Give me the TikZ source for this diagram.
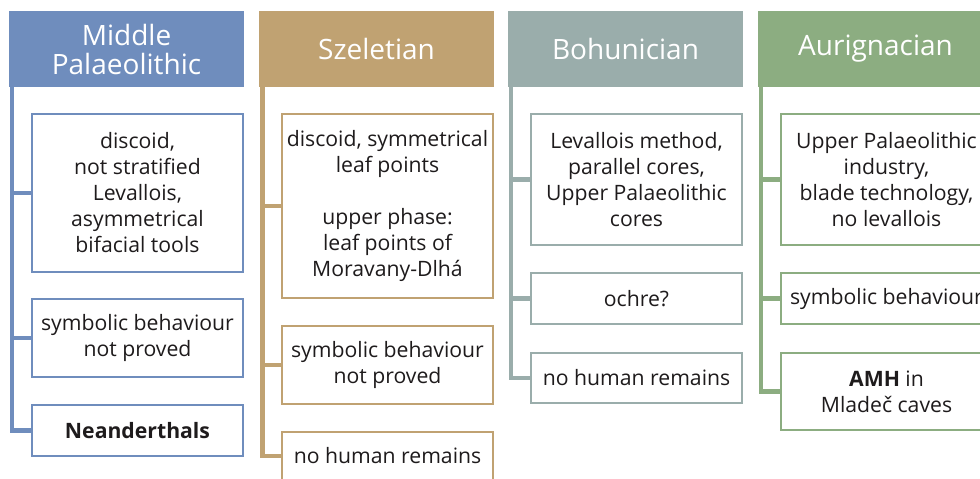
\documentclass[tikz,border=0pt]{standalone}
\usepackage{fontspec}
\setmainfont{Open Sans}
\definecolor{cblue}{HTML}{6F8DBD}
\definecolor{ctan}{HTML}{C0A272}
\definecolor{cgray}{HTML}{9AADAB}
\definecolor{cgreen}{HTML}{8CAD81}
\definecolor{txt}{HTML}{1E1B1C}
\tikzset{
  hdr/.style={fill=#1, minimum width=235pt, minimum height=76pt, inner sep=0pt,
    text=white, align=center, font=\fontsize{28}{29}\selectfont},
  itm/.style={draw=#1, line width=1.6pt, fill=white, minimum width=211pt, inner sep=0pt,
    align=center, text=txt, font=\fontsize{21.2}{26}\selectfont},
  trunk/.style={draw=#1, line width=4.6pt},
}
\begin{document}
\begin{tikzpicture}[x=1pt,y=-1pt]
\useasboundingbox (0,0) rectangle (980,479);
\clip (0,0) rectangle (980,479);
\fill[white] (0,0) rectangle (980,479);
% headers
\node[hdr=cblue]  (h1) at (126.5,49) {Middle\\Palaeolithic};
\node[hdr=ctan]   (h2) at (376.5,49) {Szeletian};
\node[hdr=cgray]  (h3) at (625.5,49) {Bohunician};
\node[hdr=cgreen] (h4) at (875.5,49) {Aurignacian};
% trunk tops
\coordinate (t1) at (12,86);
\coordinate (t2) at (262.5,86);
\coordinate (t3) at (511,86);
\coordinate (t4) at (761,86);
% column 1
\node[itm=cblue, minimum height=158pt] (a1) at (137.5,193) {discoid,\\not stratified\\Levallois,\\asymmetrical\\bifacial tools};
\node[itm=cblue, minimum height=78pt] (a2) at (137.5,338) {symbolic behaviour\\not proved};
\node[itm=cblue, minimum height=51pt] (a3) at (137.5,430.5) {\textbf{Neanderthals}};
% column 2
\node[itm=ctan, minimum height=184pt] (b1) at (387.5,206) {discoid, symmetrical\\leaf points\\[26pt]upper phase:\\leaf points of\\Moravany-Dlhá};
\node[itm=ctan, minimum height=78pt] (b2) at (387.5,365) {symbolic behaviour\\not proved};
\node[itm=ctan, minimum height=48pt] (b3) at (387.5,456) {no human remains};
% column 3
\node[itm=cgray, minimum height=131pt] (c1) at (636.5,179.5) {Levallois method,\\parallel cores,\\Upper Palaeolithic\\cores};
\node[itm=cgray, minimum height=51pt] (c2) at (636.5,298.5) {ochre?};
\node[itm=cgray, minimum height=50pt] (c3) at (636.5,378) {no human remains};
% column 4
\node[itm=cgreen, minimum height=131pt] (d1) at (886.5,179.5) {Upper Palaeolithic\\industry,\\blade technology,\\no levallois};
\node[itm=cgreen, minimum height=51pt] (d2) at (886.5,298.5) {symbolic behaviour};
\node[itm=cgreen, minimum height=77pt] (d3) at (886.5,391.5) {\textbf{AMH} in\\Mladeč caves};
% connectors
\draw[trunk=cblue] (t1) |- (a3.west);
\draw[trunk=cblue] (a1.west) -- (a1.west -| t1);
\draw[trunk=cblue] (a2.west) -- (a2.west -| t1);
\draw[trunk=ctan] (t2) |- (b3.west);
\draw[trunk=ctan] (b1.west) -- (b1.west -| t2);
\draw[trunk=ctan] (b2.west) -- (b2.west -| t2);
\draw[trunk=cgray] (t3) |- (c3.west);
\draw[trunk=cgray] (c1.west) -- (c1.west -| t3);
\draw[trunk=cgray] (c2.west) -- (c2.west -| t3);
\draw[trunk=cgreen] (t4) |- (d3.west);
\draw[trunk=cgreen] (d1.west) -- (d1.west -| t4);
\draw[trunk=cgreen] (d2.west) -- (d2.west -| t4);
\end{tikzpicture}
\end{document}
